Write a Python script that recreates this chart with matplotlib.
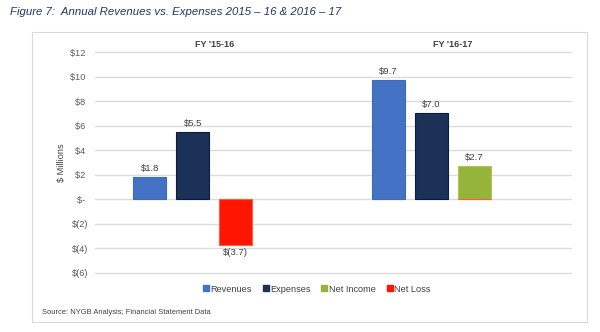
import matplotlib
matplotlib.use("Agg")
import matplotlib.pyplot as plt
from matplotlib.patches import Rectangle
from matplotlib.lines import Line2D
import numpy as np

plt.rcParams['font.family'] = ['Liberation Sans', 'DejaVu Sans']

# Fiscal-year groups and series ($ millions)
periods = ["FY '15-16", "FY '16-17"]
revenues = [1.8, 9.7]
expenses = [5.5, 7.0]
net_income = [np.nan, 2.7]
net_loss = [-3.7, np.nan]

series_names = ["Revenues", "Expenses", "Net Income", "Net Loss"]
face_colors = ["#4472C4", "#1C3158", "#95B43A", "#FF1500"]
edge_colors = ["#3E6AB8", "#0E1B3A", "#A9C75A", "#FF5A4A"]

y_ticks = [12, 10, 8, 6, 4, 2, 0, -2, -4, -6]


def money(v):
    if v == 0:
        return "$- "
    if v < 0:
        return "$(%g)" % abs(v)
    return "$%g " % v


def value_label(v):
    if v < 0:
        return "$(%.1f)" % abs(v)
    return "$%.1f" % v


fig = plt.figure(figsize=(6.0, 3.32), dpi=100)

# Outer chart frame
fig.patches.append(Rectangle((32 / 600, 1 - 322 / 332), 555 / 600, 290 / 332,
                             transform=fig.transFigure, fill=False,
                             edgecolor="#DADADA", linewidth=0.8))

# Plot area: 12.24 px per $1M, with a small margin so the end gridlines show
ax = fig.add_axes([95 / 600, 56.55 / 332, 477 / 600, 225.9 / 332])

x = np.arange(len(periods))
slot = 0.18
width = 0.138
# slot 3 hosts either net income or net loss; slot 4 stays empty
slot_index = [0, 1, 2, 2]
data = [revenues, expenses, net_income, net_loss]

for name, vals, si, fc, ec in zip(series_names, data, slot_index, face_colors, edge_colors):
    pos = x + (si - 1.5) * slot
    v = np.array(vals, dtype=float)
    ax.bar(pos, np.nan_to_num(v), width=width, color=fc, edgecolor=ec,
           linewidth=0.8, zorder=3)
    for p, val in zip(pos, v):
        if np.isnan(val):
            continue
        if val >= 0:
            ax.annotate(value_label(val), (p, val), xytext=(0, 3),
                        textcoords="offset points", ha="center", va="bottom",
                        fontsize=6.8, color="#404040")
        else:
            ax.annotate(value_label(val), (p, val), xytext=(0, -2),
                        textcoords="offset points", ha="center", va="top",
                        fontsize=6.8, color="#404040")

ax.set_xlim(-0.5, 1.5)
ax.set_ylim(-6.2, 12.2)
ax.set_yticks(y_ticks)
ax.set_yticklabels([money(v) for v in y_ticks], fontsize=6.6, color="#595959")
ax.tick_params(axis="y", length=0, pad=5)
ax.set_xticks([])
ax.grid(axis="y", color="#DCDCDC", linewidth=1.0, zorder=0)
ax.set_axisbelow(True)
for s in ax.spines.values():
    s.set_visible(False)

ax.set_ylabel("$ Millions", fontsize=6.6, color="#404040", labelpad=3)

# Period headers above the plot area
for xi, label in zip(x, periods):
    ax.text(xi, 12.65, label, ha="center", va="center", fontsize=6.5,
            fontweight="bold", color="#404040", transform=ax.transData)

# Legend with small square swatches
handles = [Line2D([], [], marker="s", linestyle="", markersize=3.8,
                  markerfacecolor=fc, markeredgecolor=fc) for fc in face_colors]
fig.legend(handles, series_names, loc="center", bbox_to_anchor=(316 / 600, 1 - 289 / 332),
           ncol=4, frameon=False, fontsize=6.6, labelcolor="#404040",
           handletextpad=0.0, columnspacing=1.0, handlelength=1.0)

fig.text(10 / 600, 1 - 12 / 332,
         "Figure 7:  Annual Revenues vs. Expenses 2015 \u2013 16 & 2016 \u2013 17",
         ha="left", va="center", fontsize=8.2, style="italic", color="#1F3864")

fig.text(42 / 600, 1 - 313 / 332, "Source: NYGB Analysis; Financial Statement Data",
         ha="left", va="center", fontsize=5.4, color="#404040")

fig.savefig("out.png", dpi=100)
